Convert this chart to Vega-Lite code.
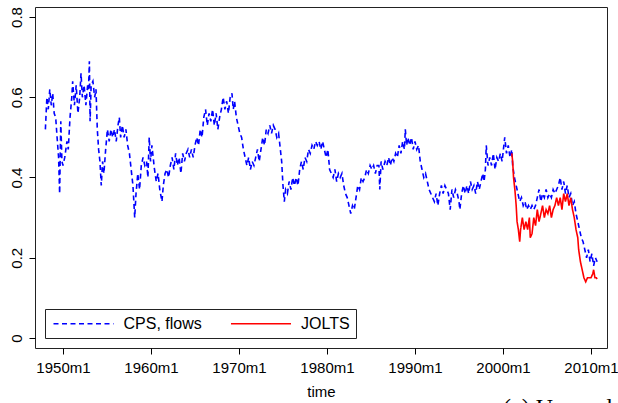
{
  "$schema": "https://vega.github.io/schema/vega-lite/v6.json",
  "width": 572,
  "height": 341,
  "padding": {"left": 9, "top": 6, "right": 0, "bottom": 0},
  "autosize": {"type": "pad"},
  "background": "white",
  "title": {"text": "(a) Unemployment to employment", "orient": "bottom", "anchor": "start", "frame": "group", "font": "Liberation Serif", "fontSize": 24, "fontWeight": "normal", "color": "black", "dx": 468, "offset": -3},
  "data": {"values": [
    {"s":"CPS","t":1948.0,"v":0.52},{"s":"CPS","t":1948.17,"v":0.60},{"s":"CPS","t":1948.33,"v":0.57},{"s":"CPS","t":1948.5,"v":0.62},{"s":"CPS","t":1948.67,"v":0.58},{"s":"CPS","t":1948.83,"v":0.61},
    {"s":"CPS","t":1949.0,"v":0.56},{"s":"CPS","t":1949.17,"v":0.55},{"s":"CPS","t":1949.33,"v":0.50},{"s":"CPS","t":1949.5,"v":0.45},{"s":"CPS","t":1949.62,"v":0.36},{"s":"CPS","t":1949.75,"v":0.54},{"s":"CPS","t":1949.88,"v":0.44},
    {"s":"CPS","t":1950.0,"v":0.43},{"s":"CPS","t":1950.2,"v":0.45},{"s":"CPS","t":1950.45,"v":0.49},{"s":"CPS","t":1950.6,"v":0.47},{"s":"CPS","t":1950.8,"v":0.55},
    {"s":"CPS","t":1951.0,"v":0.60},{"s":"CPS","t":1951.1,"v":0.64},{"s":"CPS","t":1951.3,"v":0.58},{"s":"CPS","t":1951.5,"v":0.63},{"s":"CPS","t":1951.7,"v":0.56},{"s":"CPS","t":1951.9,"v":0.60},
    {"s":"CPS","t":1952.05,"v":0.66},{"s":"CPS","t":1952.2,"v":0.60},{"s":"CPS","t":1952.4,"v":0.63},{"s":"CPS","t":1952.6,"v":0.58},{"s":"CPS","t":1952.8,"v":0.63},{"s":"CPS","t":1952.9,"v":0.62},
    {"s":"CPS","t":1953.0,"v":0.69},{"s":"CPS","t":1953.08,"v":0.54},{"s":"CPS","t":1953.2,"v":0.63},{"s":"CPS","t":1953.4,"v":0.64},{"s":"CPS","t":1953.6,"v":0.60},{"s":"CPS","t":1953.75,"v":0.62},{"s":"CPS","t":1953.9,"v":0.52},
    {"s":"CPS","t":1954.05,"v":0.47},{"s":"CPS","t":1954.2,"v":0.44},{"s":"CPS","t":1954.35,"v":0.38},{"s":"CPS","t":1954.5,"v":0.44},{"s":"CPS","t":1954.65,"v":0.41},{"s":"CPS","t":1954.85,"v":0.47},
    {"s":"CPS","t":1955.05,"v":0.52},{"s":"CPS","t":1955.25,"v":0.49},{"s":"CPS","t":1955.45,"v":0.52},{"s":"CPS","t":1955.65,"v":0.50},{"s":"CPS","t":1955.85,"v":0.52},
    {"s":"CPS","t":1956.05,"v":0.49},{"s":"CPS","t":1956.25,"v":0.53},{"s":"CPS","t":1956.4,"v":0.55},{"s":"CPS","t":1956.55,"v":0.50},{"s":"CPS","t":1956.75,"v":0.53},{"s":"CPS","t":1956.95,"v":0.50},
    {"s":"CPS","t":1957.15,"v":0.52},{"s":"CPS","t":1957.35,"v":0.48},{"s":"CPS","t":1957.55,"v":0.46},{"s":"CPS","t":1957.75,"v":0.42},{"s":"CPS","t":1957.95,"v":0.38},
    {"s":"CPS","t":1958.15,"v":0.30},{"s":"CPS","t":1958.3,"v":0.36},{"s":"CPS","t":1958.5,"v":0.41},{"s":"CPS","t":1958.7,"v":0.37},{"s":"CPS","t":1958.9,"v":0.43},
    {"s":"CPS","t":1959.1,"v":0.45},{"s":"CPS","t":1959.3,"v":0.43},{"s":"CPS","t":1959.5,"v":0.44},{"s":"CPS","t":1959.65,"v":0.40},{"s":"CPS","t":1959.8,"v":0.50},{"s":"CPS","t":1959.95,"v":0.44},
    {"s":"CPS","t":1960.1,"v":0.48},{"s":"CPS","t":1960.25,"v":0.45},{"s":"CPS","t":1960.4,"v":0.42},{"s":"CPS","t":1960.6,"v":0.39},{"s":"CPS","t":1960.8,"v":0.41},
    {"s":"CPS","t":1961.0,"v":0.37},{"s":"CPS","t":1961.25,"v":0.34},{"s":"CPS","t":1961.4,"v":0.38},{"s":"CPS","t":1961.6,"v":0.41},{"s":"CPS","t":1961.8,"v":0.42},
    {"s":"CPS","t":1962.0,"v":0.40},{"s":"CPS","t":1962.2,"v":0.43},{"s":"CPS","t":1962.4,"v":0.45},{"s":"CPS","t":1962.6,"v":0.42},{"s":"CPS","t":1962.8,"v":0.46},
    {"s":"CPS","t":1963.0,"v":0.43},{"s":"CPS","t":1963.2,"v":0.45},{"s":"CPS","t":1963.4,"v":0.41},{"s":"CPS","t":1963.6,"v":0.46},{"s":"CPS","t":1963.8,"v":0.44},
    {"s":"CPS","t":1964.0,"v":0.46},{"s":"CPS","t":1964.2,"v":0.47},{"s":"CPS","t":1964.4,"v":0.45},{"s":"CPS","t":1964.6,"v":0.47},{"s":"CPS","t":1964.8,"v":0.45},
    {"s":"CPS","t":1965.0,"v":0.48},{"s":"CPS","t":1965.2,"v":0.50},{"s":"CPS","t":1965.4,"v":0.48},{"s":"CPS","t":1965.6,"v":0.52},{"s":"CPS","t":1965.8,"v":0.50},
    {"s":"CPS","t":1966.0,"v":0.55},{"s":"CPS","t":1966.2,"v":0.57},{"s":"CPS","t":1966.4,"v":0.53},{"s":"CPS","t":1966.6,"v":0.56},{"s":"CPS","t":1966.8,"v":0.54},
    {"s":"CPS","t":1967.0,"v":0.57},{"s":"CPS","t":1967.2,"v":0.53},{"s":"CPS","t":1967.4,"v":0.56},{"s":"CPS","t":1967.6,"v":0.52},{"s":"CPS","t":1967.8,"v":0.55},
    {"s":"CPS","t":1968.0,"v":0.57},{"s":"CPS","t":1968.2,"v":0.60},{"s":"CPS","t":1968.4,"v":0.57},{"s":"CPS","t":1968.6,"v":0.59},{"s":"CPS","t":1968.8,"v":0.56},
    {"s":"CPS","t":1969.0,"v":0.60},{"s":"CPS","t":1969.2,"v":0.61},{"s":"CPS","t":1969.35,"v":0.57},{"s":"CPS","t":1969.5,"v":0.59},{"s":"CPS","t":1969.7,"v":0.55},{"s":"CPS","t":1969.9,"v":0.53},
    {"s":"CPS","t":1970.1,"v":0.51},{"s":"CPS","t":1970.3,"v":0.50},{"s":"CPS","t":1970.5,"v":0.47},{"s":"CPS","t":1970.7,"v":0.45},{"s":"CPS","t":1970.9,"v":0.43},
    {"s":"CPS","t":1971.1,"v":0.45},{"s":"CPS","t":1971.3,"v":0.42},{"s":"CPS","t":1971.5,"v":0.44},{"s":"CPS","t":1971.7,"v":0.43},{"s":"CPS","t":1971.9,"v":0.45},
    {"s":"CPS","t":1972.1,"v":0.47},{"s":"CPS","t":1972.3,"v":0.44},{"s":"CPS","t":1972.5,"v":0.47},{"s":"CPS","t":1972.7,"v":0.50},{"s":"CPS","t":1972.9,"v":0.48},
    {"s":"CPS","t":1973.1,"v":0.52},{"s":"CPS","t":1973.3,"v":0.51},{"s":"CPS","t":1973.5,"v":0.53},{"s":"CPS","t":1973.7,"v":0.51},{"s":"CPS","t":1973.9,"v":0.53},
    {"s":"CPS","t":1974.1,"v":0.52},{"s":"CPS","t":1974.3,"v":0.50},{"s":"CPS","t":1974.5,"v":0.51},{"s":"CPS","t":1974.7,"v":0.47},{"s":"CPS","t":1974.85,"v":0.44},
    {"s":"CPS","t":1975.0,"v":0.38},{"s":"CPS","t":1975.15,"v":0.34},{"s":"CPS","t":1975.3,"v":0.37},{"s":"CPS","t":1975.5,"v":0.36},{"s":"CPS","t":1975.7,"v":0.39},{"s":"CPS","t":1975.9,"v":0.37},
    {"s":"CPS","t":1976.1,"v":0.40},{"s":"CPS","t":1976.3,"v":0.38},{"s":"CPS","t":1976.5,"v":0.40},{"s":"CPS","t":1976.7,"v":0.38},{"s":"CPS","t":1976.9,"v":0.42},
    {"s":"CPS","t":1977.1,"v":0.44},{"s":"CPS","t":1977.3,"v":0.42},{"s":"CPS","t":1977.5,"v":0.45},{"s":"CPS","t":1977.7,"v":0.44},{"s":"CPS","t":1977.9,"v":0.47},
    {"s":"CPS","t":1978.1,"v":0.46},{"s":"CPS","t":1978.3,"v":0.48},{"s":"CPS","t":1978.5,"v":0.47},{"s":"CPS","t":1978.7,"v":0.49},{"s":"CPS","t":1978.9,"v":0.48},
    {"s":"CPS","t":1979.1,"v":0.49},{"s":"CPS","t":1979.3,"v":0.47},{"s":"CPS","t":1979.5,"v":0.49},{"s":"CPS","t":1979.7,"v":0.47},{"s":"CPS","t":1979.9,"v":0.45},
    {"s":"CPS","t":1980.1,"v":0.47},{"s":"CPS","t":1980.3,"v":0.42},{"s":"CPS","t":1980.5,"v":0.41},{"s":"CPS","t":1980.7,"v":0.40},{"s":"CPS","t":1980.9,"v":0.42},
    {"s":"CPS","t":1981.1,"v":0.39},{"s":"CPS","t":1981.3,"v":0.41},{"s":"CPS","t":1981.5,"v":0.40},{"s":"CPS","t":1981.7,"v":0.41},{"s":"CPS","t":1981.9,"v":0.38},
    {"s":"CPS","t":1982.1,"v":0.36},{"s":"CPS","t":1982.3,"v":0.35},{"s":"CPS","t":1982.5,"v":0.33},{"s":"CPS","t":1982.7,"v":0.31},{"s":"CPS","t":1982.9,"v":0.33},
    {"s":"CPS","t":1983.1,"v":0.32},{"s":"CPS","t":1983.3,"v":0.35},{"s":"CPS","t":1983.5,"v":0.38},{"s":"CPS","t":1983.7,"v":0.37},{"s":"CPS","t":1983.9,"v":0.40},
    {"s":"CPS","t":1984.1,"v":0.39},{"s":"CPS","t":1984.3,"v":0.40},{"s":"CPS","t":1984.5,"v":0.42},{"s":"CPS","t":1984.7,"v":0.41},{"s":"CPS","t":1984.9,"v":0.43},
    {"s":"CPS","t":1985.1,"v":0.42},{"s":"CPS","t":1985.3,"v":0.43},{"s":"CPS","t":1985.5,"v":0.41},{"s":"CPS","t":1985.7,"v":0.43},{"s":"CPS","t":1985.9,"v":0.43},
    {"s":"CPS","t":1986.0,"v":0.37},{"s":"CPS","t":1986.15,"v":0.44},{"s":"CPS","t":1986.35,"v":0.42},{"s":"CPS","t":1986.6,"v":0.44},{"s":"CPS","t":1986.8,"v":0.43},
    {"s":"CPS","t":1987.0,"v":0.45},{"s":"CPS","t":1987.2,"v":0.43},{"s":"CPS","t":1987.4,"v":0.45},{"s":"CPS","t":1987.6,"v":0.44},{"s":"CPS","t":1987.8,"v":0.46},
    {"s":"CPS","t":1988.0,"v":0.45},{"s":"CPS","t":1988.2,"v":0.48},{"s":"CPS","t":1988.4,"v":0.46},{"s":"CPS","t":1988.6,"v":0.49},{"s":"CPS","t":1988.8,"v":0.47},{"s":"CPS","t":1988.9,"v":0.52},
    {"s":"CPS","t":1989.05,"v":0.48},{"s":"CPS","t":1989.2,"v":0.50},{"s":"CPS","t":1989.4,"v":0.48},{"s":"CPS","t":1989.6,"v":0.50},{"s":"CPS","t":1989.8,"v":0.47},
    {"s":"CPS","t":1990.0,"v":0.49},{"s":"CPS","t":1990.2,"v":0.47},{"s":"CPS","t":1990.4,"v":0.48},{"s":"CPS","t":1990.6,"v":0.44},{"s":"CPS","t":1990.8,"v":0.42},
    {"s":"CPS","t":1991.0,"v":0.40},{"s":"CPS","t":1991.2,"v":0.41},{"s":"CPS","t":1991.4,"v":0.39},{"s":"CPS","t":1991.6,"v":0.37},{"s":"CPS","t":1991.8,"v":0.36},
    {"s":"CPS","t":1992.0,"v":0.35},{"s":"CPS","t":1992.2,"v":0.34},{"s":"CPS","t":1992.4,"v":0.36},{"s":"CPS","t":1992.6,"v":0.33},{"s":"CPS","t":1992.8,"v":0.36},
    {"s":"CPS","t":1993.0,"v":0.38},{"s":"CPS","t":1993.2,"v":0.36},{"s":"CPS","t":1993.4,"v":0.38},{"s":"CPS","t":1993.6,"v":0.37},{"s":"CPS","t":1993.8,"v":0.36},
    {"s":"CPS","t":1994.0,"v":0.32},{"s":"CPS","t":1994.2,"v":0.37},{"s":"CPS","t":1994.4,"v":0.35},{"s":"CPS","t":1994.6,"v":0.37},{"s":"CPS","t":1994.8,"v":0.36},
    {"s":"CPS","t":1995.0,"v":0.34},{"s":"CPS","t":1995.1,"v":0.32},{"s":"CPS","t":1995.3,"v":0.36},{"s":"CPS","t":1995.5,"v":0.38},{"s":"CPS","t":1995.7,"v":0.36},{"s":"CPS","t":1995.9,"v":0.38},
    {"s":"CPS","t":1996.1,"v":0.36},{"s":"CPS","t":1996.3,"v":0.39},{"s":"CPS","t":1996.5,"v":0.37},{"s":"CPS","t":1996.7,"v":0.38},{"s":"CPS","t":1996.9,"v":0.36},
    {"s":"CPS","t":1997.1,"v":0.39},{"s":"CPS","t":1997.3,"v":0.37},{"s":"CPS","t":1997.5,"v":0.39},{"s":"CPS","t":1997.7,"v":0.41},{"s":"CPS","t":1997.85,"v":0.39},
    {"s":"CPS","t":1998.0,"v":0.42},{"s":"CPS","t":1998.1,"v":0.48},{"s":"CPS","t":1998.3,"v":0.43},{"s":"CPS","t":1998.5,"v":0.45},{"s":"CPS","t":1998.7,"v":0.43},{"s":"CPS","t":1998.9,"v":0.46},
    {"s":"CPS","t":1999.1,"v":0.42},{"s":"CPS","t":1999.3,"v":0.45},{"s":"CPS","t":1999.5,"v":0.44},{"s":"CPS","t":1999.7,"v":0.46},{"s":"CPS","t":1999.9,"v":0.44},
    {"s":"CPS","t":2000.05,"v":0.47},{"s":"CPS","t":2000.2,"v":0.50},{"s":"CPS","t":2000.4,"v":0.46},{"s":"CPS","t":2000.6,"v":0.48},{"s":"CPS","t":2000.8,"v":0.45},
    {"s":"CPS","t":2001.0,"v":0.47},{"s":"CPS","t":2001.1,"v":0.43},{"s":"CPS","t":2001.3,"v":0.40},{"s":"CPS","t":2001.5,"v":0.38},{"s":"CPS","t":2001.7,"v":0.36},{"s":"CPS","t":2001.9,"v":0.34},
    {"s":"CPS","t":2002.1,"v":0.35},{"s":"CPS","t":2002.3,"v":0.33},{"s":"CPS","t":2002.5,"v":0.34},{"s":"CPS","t":2002.7,"v":0.32},{"s":"CPS","t":2002.9,"v":0.33},
    {"s":"CPS","t":2003.1,"v":0.32},{"s":"CPS","t":2003.3,"v":0.33},{"s":"CPS","t":2003.5,"v":0.32},{"s":"CPS","t":2003.7,"v":0.33},{"s":"CPS","t":2003.9,"v":0.35},
    {"s":"CPS","t":2004.1,"v":0.37},{"s":"CPS","t":2004.3,"v":0.34},{"s":"CPS","t":2004.5,"v":0.36},{"s":"CPS","t":2004.7,"v":0.35},{"s":"CPS","t":2004.9,"v":0.37},
    {"s":"CPS","t":2005.1,"v":0.35},{"s":"CPS","t":2005.3,"v":0.36},{"s":"CPS","t":2005.5,"v":0.35},{"s":"CPS","t":2005.7,"v":0.37},{"s":"CPS","t":2005.9,"v":0.36},
    {"s":"CPS","t":2006.1,"v":0.37},{"s":"CPS","t":2006.3,"v":0.38},{"s":"CPS","t":2006.5,"v":0.40},{"s":"CPS","t":2006.7,"v":0.37},{"s":"CPS","t":2006.9,"v":0.39},
    {"s":"CPS","t":2007.1,"v":0.36},{"s":"CPS","t":2007.3,"v":0.38},{"s":"CPS","t":2007.5,"v":0.35},{"s":"CPS","t":2007.7,"v":0.36},{"s":"CPS","t":2007.9,"v":0.33},
    {"s":"CPS","t":2008.1,"v":0.34},{"s":"CPS","t":2008.3,"v":0.31},{"s":"CPS","t":2008.5,"v":0.29},{"s":"CPS","t":2008.7,"v":0.27},{"s":"CPS","t":2008.9,"v":0.25},
    {"s":"CPS","t":2009.1,"v":0.24},{"s":"CPS","t":2009.3,"v":0.22},{"s":"CPS","t":2009.5,"v":0.20},{"s":"CPS","t":2009.7,"v":0.22},{"s":"CPS","t":2009.9,"v":0.19},
    {"s":"CPS","t":2010.1,"v":0.21},{"s":"CPS","t":2010.3,"v":0.18},{"s":"CPS","t":2010.5,"v":0.20},{"s":"CPS","t":2010.7,"v":0.19},
    {"s":"JOLTS","t":2001.0,"v":0.46},{"s":"JOLTS","t":2001.1,"v":0.44},{"s":"JOLTS","t":2001.2,"v":0.40},{"s":"JOLTS","t":2001.35,"v":0.37},{"s":"JOLTS","t":2001.5,"v":0.33},{"s":"JOLTS","t":2001.6,"v":0.29},{"s":"JOLTS","t":2001.75,"v":0.27},{"s":"JOLTS","t":2001.9,"v":0.24},
    {"s":"JOLTS","t":2002.0,"v":0.27},{"s":"JOLTS","t":2002.2,"v":0.30},{"s":"JOLTS","t":2002.4,"v":0.27},{"s":"JOLTS","t":2002.6,"v":0.29},{"s":"JOLTS","t":2002.8,"v":0.27},
    {"s":"JOLTS","t":2003.0,"v":0.30},{"s":"JOLTS","t":2003.1,"v":0.25},{"s":"JOLTS","t":2003.3,"v":0.26},{"s":"JOLTS","t":2003.5,"v":0.30},{"s":"JOLTS","t":2003.7,"v":0.28},{"s":"JOLTS","t":2003.9,"v":0.32},
    {"s":"JOLTS","t":2004.1,"v":0.29},{"s":"JOLTS","t":2004.3,"v":0.31},{"s":"JOLTS","t":2004.5,"v":0.33},{"s":"JOLTS","t":2004.7,"v":0.30},{"s":"JOLTS","t":2004.9,"v":0.32},
    {"s":"JOLTS","t":2005.1,"v":0.31},{"s":"JOLTS","t":2005.3,"v":0.33},{"s":"JOLTS","t":2005.5,"v":0.30},{"s":"JOLTS","t":2005.7,"v":0.32},{"s":"JOLTS","t":2005.9,"v":0.33},
    {"s":"JOLTS","t":2006.1,"v":0.35},{"s":"JOLTS","t":2006.3,"v":0.33},{"s":"JOLTS","t":2006.5,"v":0.35},{"s":"JOLTS","t":2006.7,"v":0.32},{"s":"JOLTS","t":2006.9,"v":0.36},
    {"s":"JOLTS","t":2007.1,"v":0.34},{"s":"JOLTS","t":2007.3,"v":0.36},{"s":"JOLTS","t":2007.5,"v":0.33},{"s":"JOLTS","t":2007.7,"v":0.35},{"s":"JOLTS","t":2007.9,"v":0.32},
    {"s":"JOLTS","t":2008.1,"v":0.30},{"s":"JOLTS","t":2008.3,"v":0.27},{"s":"JOLTS","t":2008.5,"v":0.25},{"s":"JOLTS","t":2008.6,"v":0.22},{"s":"JOLTS","t":2008.8,"v":0.19},
    {"s":"JOLTS","t":2009.0,"v":0.17},{"s":"JOLTS","t":2009.2,"v":0.15},{"s":"JOLTS","t":2009.4,"v":0.14},{"s":"JOLTS","t":2009.6,"v":0.15},{"s":"JOLTS","t":2009.8,"v":0.15},
    {"s":"JOLTS","t":2010.0,"v":0.15},{"s":"JOLTS","t":2010.2,"v":0.16},{"s":"JOLTS","t":2010.3,"v":0.17},{"s":"JOLTS","t":2010.45,"v":0.15},{"s":"JOLTS","t":2010.6,"v":0.15},{"s":"JOLTS","t":2010.7,"v":0.147}
  ]},
  "mark": {"type": "line", "strokeWidth": 1.6, "clip": true},
  "encoding": {
    "x": {"field": "t", "type": "quantitative", "scale": {"domain": [1946.82, 2011.82], "nice": false, "zero": false},
      "axis": {"values": [1950, 1960, 1970, 1980, 1990, 2000, 2010], "labelExpr": "datum.value + 'm1'", "title": "time", "labelPadding": 6, "titlePadding": 9, "labelFlush": false, "labelOverlap": false}},
    "y": {"field": "v", "type": "quantitative", "scale": {"domain": [-0.025, 0.825], "nice": false, "zero": false},
      "axis": {"values": [0, 0.2, 0.4, 0.6, 0.8], "format": "~g", "labelAngle": 270, "labelAlign": "center", "labelBaseline": "bottom", "labelPadding": 5, "title": null, "labelFlush": false, "labelOverlap": false}},
    "color": {"field": "s", "type": "nominal", "scale": {"domain": ["CPS", "JOLTS"], "range": ["#0000ff", "#ff0000"]},
      "legend": {"title": null, "labelExpr": "datum.label == 'CPS' ? 'CPS, flows' : 'JOLTS'"}},
    "strokeDash": {"field": "s", "type": "nominal", "scale": {"domain": ["CPS", "JOLTS"], "range": [[5, 3.5], [1, 0]]},
      "legend": {"title": null, "labelExpr": "datum.label == 'CPS' ? 'CPS, flows' : 'JOLTS'"}}
  },
  "config": {
    "view": {"stroke": "#222222", "strokeWidth": 1},
    "axis": {"grid": false, "domain": false, "tickColor": "black", "tickSize": 6, "tickWidth": 1, "labelFont": "Liberation Sans", "labelFontSize": 15, "labelColor": "black", "titleFont": "Liberation Sans", "titleFontSize": 15, "titleFontWeight": "normal", "titleColor": "black"},
    "legend": {"orient": "bottom-left", "offset": 10, "direction": "horizontal", "fillColor": "white", "strokeColor": "#222222", "padding": 6, "symbolType": "M-0.8,0H7.2", "symbolSize": 225, "symbolStrokeWidth": 1.5, "labelFont": "Liberation Sans", "labelFontSize": 16, "labelColor": "black", "labelOffset": 55.5, "columnPadding": 25.5, "cornerRadius": 0}
  }
}
